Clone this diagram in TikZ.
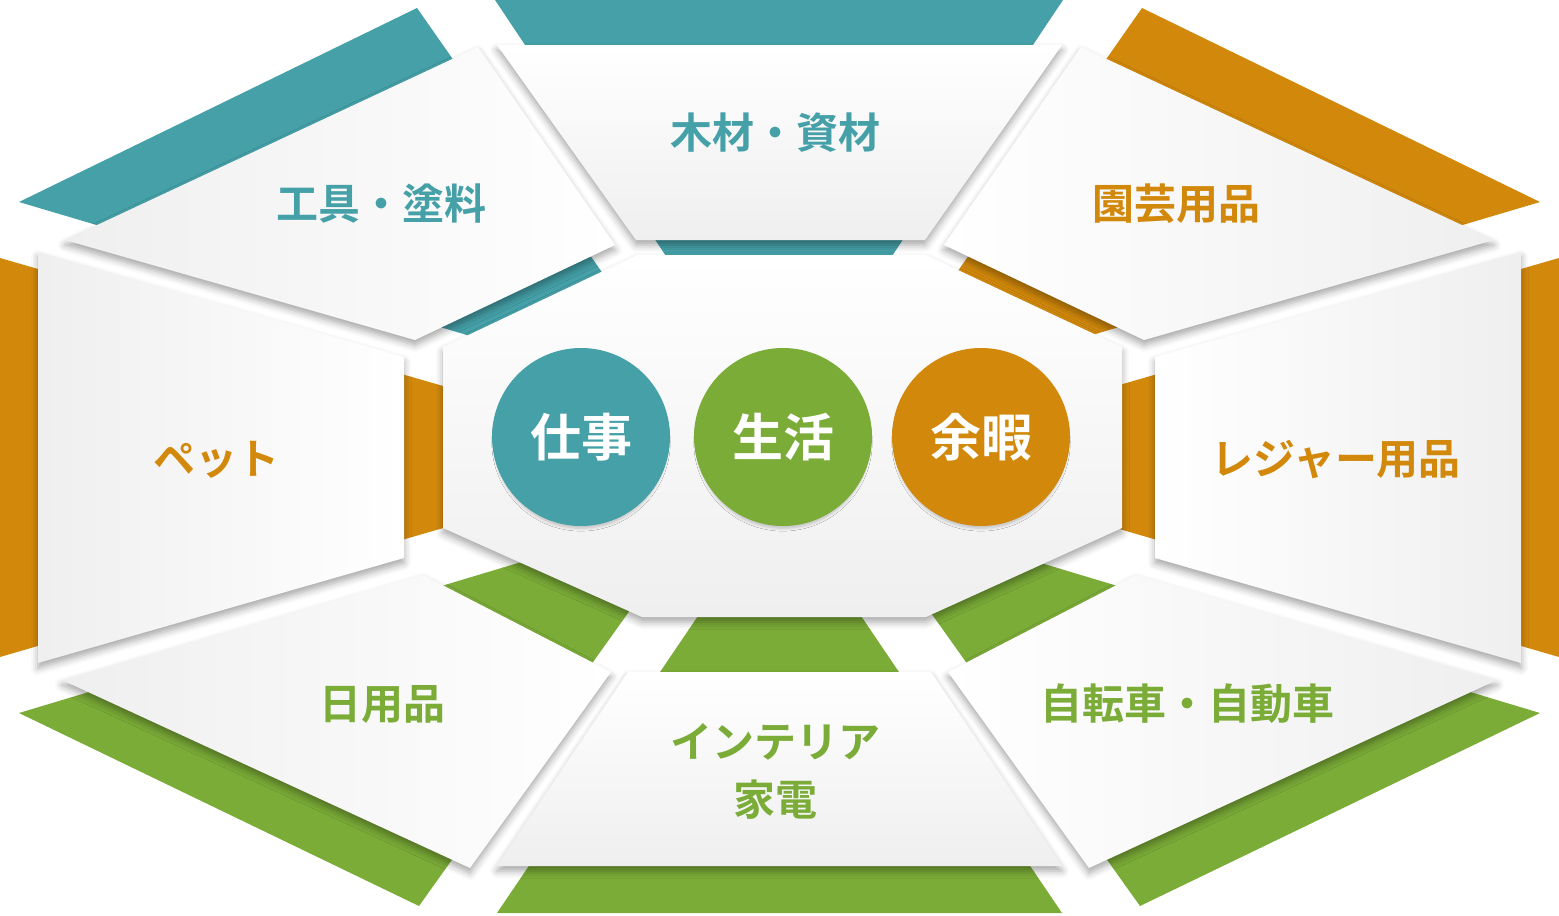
\documentclass[tikz,border=0pt]{standalone}
\usepackage{fontspec}
\newfontfamily\jp{Noto Sans CJK JP Bold}
\usetikzlibrary{shadows.blur}
\definecolor{cteal}{HTML}{45A0A8}
\definecolor{cgreen}{HTML}{7BAC38}
\definecolor{corange}{HTML}{D2890B}
\definecolor{pgray}{HTML}{EFEFEF}
\tikzset{
  band/.style={draw=none},
  panel/.style={draw=none, blur shadow={shadow xshift=0pt, shadow yshift=-5pt, shadow blur radius=7pt, shadow opacity=35}},
  lbl/.style={font=\jp\fontsize{42}{58}\selectfont, align=center, inner sep=0pt},
  ctext/.style={font=\jp\fontsize{51}{60}\selectfont, text=white, inner sep=0pt},
  disc/.style={circle, minimum size=178pt, inner sep=0pt, draw=none, blur shadow={shadow xshift=0pt, shadow yshift=-5pt, shadow scale=0.97, shadow blur radius=3pt, shadow blur steps=6, shadow opacity=22}}
}
\begin{document}
\begin{tikzpicture}[x=1pt,y=-1pt]
\useasboundingbox (0,0) rectangle (1559,916);
% coloured bands
\fill[cteal,band] (495,0)--(1063,0)--(888,262)--(670,262)--cycle;
\fill[cteal,band] (19,202)--(417,8)--(606,278)--(477,338)--cycle;
\fill[corange,band] (1540,202)--(1142,8)--(953,278)--(1082,338)--cycle;
\fill[corange,band] (0,258)--(450,388)--(450,526)--(0,657)--cycle;
\fill[corange,band] (1559,258)--(1109,388)--(1109,526)--(1559,657)--cycle;
\fill[cgreen,band] (19,713)--(528,560)--(633,606)--(419,906)--cycle;
\fill[cgreen,band] (1540,713)--(1031,560)--(926,606)--(1140,906)--cycle;
\fill[cgreen,band] (702,610)--(857,610)--(1062,913)--(497,913)--cycle;
% white panels
\path[panel, top color=white, bottom color=pgray] (497,45)--(1062,45)--(925,240)--(636,240)--cycle;
\path[panel, shading angle=60, left color=pgray, right color=white] (478,47)--(615,245)--(415,340)--(65,240)--cycle;
\path[panel, shading angle=-60, left color=white, right color=pgray] (1081,47)--(1494,240)--(1144,340)--(944,245)--cycle;
\path[panel, left color=pgray, right color=white] (38,252)--(404,357)--(404,558)--(38,663)--cycle;
\path[panel, left color=white, right color=pgray] (1521,252)--(1155,357)--(1155,558)--(1521,663)--cycle;
\path[panel, shading angle=-60, left color=pgray, right color=white] (62,680)--(423,575)--(611,672)--(470,868)--cycle;
\path[panel, shading angle=60, left color=white, right color=pgray] (1497,680)--(1136,575)--(948,672)--(1089,868)--cycle;
\path[panel, top color=white, bottom color=pgray] (628,672)--(931,672)--(1062,866)--(497,866)--cycle;
% central octagon
\path[panel, top color=white, bottom color=pgray] (637,255)--(926,255)--(1122,347)--(1122,528)--(926,617)--(642,617)--(443,528)--(443,347)--cycle;
% discs
\node[disc, fill=cteal] (work) at (581,437) {};
\node[disc, fill=cgreen] (life) at (783,437) {};
\node[disc, fill=corange] (leisure) at (981,437) {};
\node[ctext] (tw) at (work) {仕事};
\node[ctext] (tl) at (life) {生活};
\node[ctext] (tr) at (leisure) {余暇};
% labels
\node[lbl, text=cteal] (l1) at (775,133) {木材・資材};
\node[lbl, text=cteal] (l2) at (381,204) {工具・塗料};
\node[lbl, text=corange] (l3) at (1176,204) {園芸用品};
\node[lbl, text=corange] (l4) at (216,460) {ペット};
\node[lbl, text=corange] (l5) at (1336,460) {レジャー用品};
\node[lbl, text=cgreen] (l6) at (382,704) {日用品};
\node[lbl, text=cgreen] (l7) at (1187,704) {自転車・自動車};
\node[lbl, text=cgreen] (l8) at (775,771) {インテリア\\家電};
\end{tikzpicture}
\end{document}
